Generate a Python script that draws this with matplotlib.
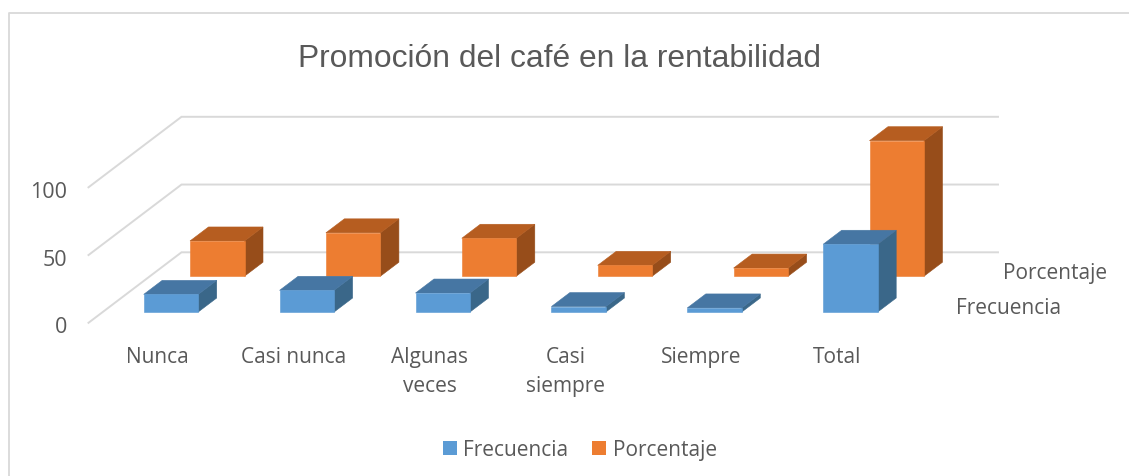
import matplotlib
matplotlib.use('Agg')
import matplotlib.pyplot as plt
from matplotlib.patches import Polygon, Patch
from matplotlib.lines import Line2D

categorias = ['Nunca', 'Casi nunca', 'Algunas\nveces', 'Casi\nsiempre', 'Siempre', 'Total']
frecuencia = [13, 16, 14, 4, 3, 50]
porcentaje = [26, 32, 28, 8, 6, 100]
series_names = ['Frecuencia', 'Porcentaje']
yticks = [0, 50, 100]
gridvals = [0, 50, 100]

W, H = 1129, 477
PX_X = 135.9   # one category in px
PX_Y = 1.355   # one value unit in px
X0 = 143.7     # px of the first bar's left edge
Y0 = 323.8     # px of value 0 on the front edge

# oblique projection, in data units
bar_w = 54.5 / PX_X
bar_dx = 18.5 / PX_X
bar_dy = 14 / PX_Y
ser_dx = 46.3 / PX_X
ser_dy = 35.8 / PX_Y
base_dy = 10.8 / PX_Y
wall_dx = 93 / PX_X
wall_dy = 70.5 / PX_Y
wall_left = (88.5 - X0) / PX_X
wall_right = (998 - X0) / PX_X

grey = '#D9D9D9'
txt = '#595959'
font = 'Open Sans'
fs = 15


def px(x, y):
    # picture pixel to data coordinates, for text placing
    return (x - X0) / PX_X, (Y0 - y) / PX_Y


fig = plt.figure(figsize=(W / 100, H / 100), dpi=100)
ax = fig.add_axes([0, 0, 1, 1])
ax.set_xlim(-X0 / PX_X, (W - X0) / PX_X)
ax.set_ylim((Y0 - H) / PX_Y, Y0 / PX_Y)
ax.axis('off')

# chart frame
fig.add_artist(Line2D([8.5 / W, 8.5 / W, 1], [0, 1 - 14 / H, 1 - 14 / H], color=grey, lw=1.3))

# walls
for v in gridvals:
    ax.plot([wall_left, wall_left + wall_dx, wall_right], [v, v + wall_dy, v + wall_dy],
            color=grey, lw=1.4, solid_joinstyle='miter', zorder=1)


def draw_bar(i, val, s, front, top, side, z):
    x0 = i + s * ser_dx
    y0 = base_dy + s * ser_dy
    x1 = x0 + bar_w
    y1 = y0 + val
    ax.add_patch(Polygon([(x1, y0), (x1 + bar_dx, y0 + bar_dy), (x1 + bar_dx, y1 + bar_dy), (x1, y1)],
                         fc=side, ec=side, lw=0.4, zorder=z))
    ax.add_patch(Polygon([(x0, y1), (x1, y1), (x1 + bar_dx, y1 + bar_dy), (x0 + bar_dx, y1 + bar_dy)],
                         fc=top, ec=top, lw=0.4, zorder=z))
    ax.add_patch(Polygon([(x0, y0), (x1, y0), (x1, y1), (x0, y1)],
                         fc=front, ec=front, lw=0.4, zorder=z))


for i, val in enumerate(porcentaje):
    draw_bar(i, val, 1, '#ED7D31', '#B65D20', '#974D1A', 2)
for i, val in enumerate(frecuencia):
    draw_bar(i, val, 0, '#5B9BD5', '#4676A3', '#3A6789', 3)

# text
tx, ty = px(560, 59)
ax.text(tx, ty, 'Promoción del café en la rentabilidad',
        family='Liberation Sans', fontsize=22.9, color=txt, ha='center', va='center')
for v in yticks:
    ax.text(px(67, 0)[0], v - 4.2 / PX_Y, str(v), family=font, fontsize=15.5, color=txt,
            ha='right', va='center')
for i, c in enumerate(categorias):
    ax.text(i + 14 / PX_X, px(0, 347)[1], c, family=font, fontsize=fs, color=txt,
            ha='center', va='top', linespacing=1.5)
tx, ty = px(956, 309)
ax.text(tx, ty, series_names[0], family=font, fontsize=fs, color=txt, ha='left', va='center')
tx, ty = px(1003, 274)
ax.text(tx, ty, series_names[1], family=font, fontsize=fs, color=txt, ha='left', va='center')

handles = [Patch(fc='#5B9BD5', label=series_names[0]), Patch(fc='#ED7D31', label=series_names[1])]
leg = ax.legend(handles=handles, ncol=2, loc='center', bbox_to_anchor=(580 / W, 1 - 450.5 / H),
                frameon=False, prop={'family': font, 'size': fs}, labelcolor=txt,
                handlelength=0.67, handleheight=0.67, handletextpad=0.3, columnspacing=1.15)

fig.savefig('out.png', dpi=100)
